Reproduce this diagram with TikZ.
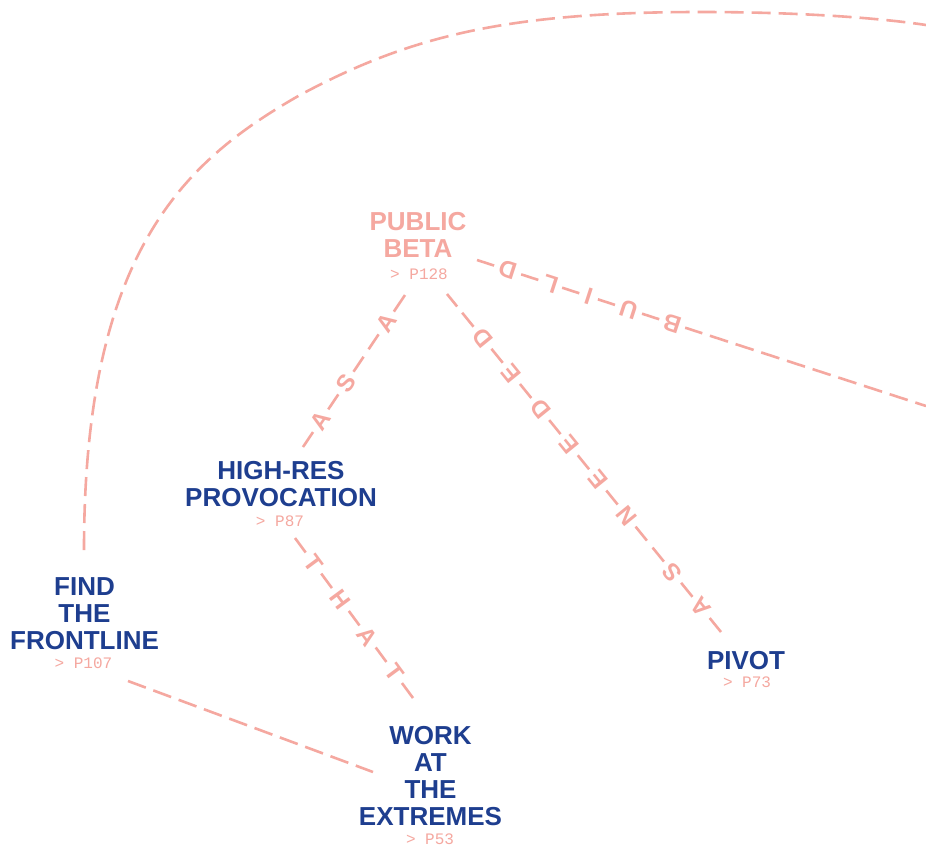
\documentclass[tikz,border=0pt]{standalone}
\usepackage{fontspec}
\newfontfamily\hvfont{Liberation Sans}
\newfontfamily\refmono{Liberation Mono}
\newfontfamily\glyphfont{Liberation Sans Bold}
\newcommand\mylet[1]{{\glyphfont\fontsize{24}{24}\selectfont #1}}
\definecolor{navy}{RGB}{30,62,143}
\definecolor{salmon}{RGB}{245,168,160}
\begin{document}
\begin{tikzpicture}[x=1pt,y=-1pt,
  title/.style={font=\hvfont\bfseries\fontsize{26}{27}\selectfont, text=navy, align=center, inner sep=0pt},
  pinktitle/.style={title, text=salmon},
  pageref/.style={font=\refmono\fontsize{16}{16}\selectfont, text=salmon, inner sep=0pt, anchor=base},
  link/.style={draw=salmon, line width=2.6pt},
  plain/.style={link, dash pattern=on 19pt off 8pt},
  glyph/.style={text=salmon, inner sep=0pt, sloped, allow upside down, anchor=center},
]
\fill[white] (0,0) rectangle (926,847);
\useasboundingbox (0,0) rectangle (926,847);

% nodes
\node[pinktitle] (pb) at (418,235) {PUBLIC\\BETA};
\node[pageref] (pbref) at (419,279) {> P128};
\node[title] (hr) at (281,484.5) {HIGH-RES\\PROVOCATION};
\node[pageref] (hrref) at (280,526) {> P87};
\node[title] (ff) at (84.5,613.5) {FIND\\THE\\FRONTLINE};
\node[pageref] (ffref) at (83.5,668) {> P107};
\node[title] (wk) at (430.5,776.5) {WORK\\AT\\THE\\EXTREMES};
\node[pageref] (wkref) at (430,844) {> P53};
\node[title] (pv) at (746,660.5) {PIVOT};
\node[pageref] (pvref) at (747,687) {> P73};

% connector end points
\coordinate (fw1) at (128,681);
\coordinate (fw2) at (373,772);
\coordinate (arc1) at (84,550);
\coordinate (arc2) at (926,25);
\coordinate (asa1) at (303,447);
\coordinate (asa2) at (405,295);
\coordinate (tha1) at (295,538);
\coordinate (tha2) at (413,698);
\coordinate (nd1) at (721,632);
\coordinate (nd2) at (447,294);
\coordinate (bd1) at (477,260);
\coordinate (bd2) at (926,406);

% plain connectors
\draw[plain] (fw1) -- (fw2);
\draw[plain] (arc1) .. controls (84,250) and (186,160) .. (300,95)
  .. controls (405.6,38.6) and (500,12) .. (700,12)
  .. controls (800,12) and (880,18) .. (arc2);

% AS A
\draw[link, dash pattern=on 18pt off 27.34pt on 18pt off 27.34pt on 18pt off 9pt on 18pt off 27.34pt on 20pt off 50pt]
  (asa1) -- (asa2)
  node[glyph, pos=0.1730] (l1) {\mylet{A}}
  node[glyph, pos=0.4207] (l2) {\mylet{S}}
  node[glyph, pos=0.8159] (l3) {\mylet{A}};

% THAT
\draw[link, dash pattern=on 18pt off 26.22pt on 18pt off 28.44pt on 18pt off 27.34pt on 18pt off 26.22pt on 20pt off 50pt]
  (tha1) -- (tha2)
  node[glyph, pos=0.1565] (t1) {\mylet{T}}
  node[glyph, pos=0.3845] (t2) {\mylet{H}}
  node[glyph, pos=0.6153] (t3) {\mylet{A}}
  node[glyph, pos=0.8406] (t4) {\mylet{T}};

% AS NEEDED
\draw[link, dash pattern=on 18pt off 27.34pt on 18pt off 27.34pt on 18pt off 9pt on 18pt off 28.44pt on 18pt off 27.34pt on 18pt off 27.34pt on 18pt off 28.44pt on 18pt off 27.34pt on 18pt off 28.44pt on 18pt off 8pt on 20pt off 50pt]
  (nd1) -- (nd2)
  node[glyph, pos=0.0728] (n1) {\mylet{A}}
  node[glyph, pos=0.1770] (n2) {\mylet{S}}
  node[glyph, pos=0.3445] (n3) {\mylet{N}}
  node[glyph, pos=0.4500] (n4) {\mylet{E}}
  node[glyph, pos=0.5542] (n5) {\mylet{E}}
  node[glyph, pos=0.6596] (n6) {\mylet{D}}
  node[glyph, pos=0.7651] (n7) {\mylet{E}}
  node[glyph, pos=0.8706] (n8) {\mylet{D}};

% BUILD
\draw[link, dash pattern=on 18pt off 28.44pt on 18pt off 25.12pt on 18pt off 19.56pt on 18pt off 28.44pt on 18pt off 27.34pt on 18pt off 8pt on 19pt off 8pt on 19pt off 8pt on 19pt off 8pt on 19pt off 8pt on 19pt off 8pt on 19pt off 8pt on 19pt off 8pt on 19pt off 8pt on 19pt off 8pt on 19pt off 50pt]
  (bd1) -- (bd2)
  node[glyph, rotate=180, pos=0.0682] (b1) {\mylet{D}}
  node[glyph, rotate=180, pos=0.1631] (b2) {\mylet{L}}
  node[glyph, rotate=180, pos=0.2485] (b3) {\mylet{I}}
  node[glyph, rotate=180, pos=0.3375] (b4) {\mylet{U}}
  node[glyph, rotate=180, pos=0.4347] (b5) {\mylet{B}};
\end{tikzpicture}
\end{document}
